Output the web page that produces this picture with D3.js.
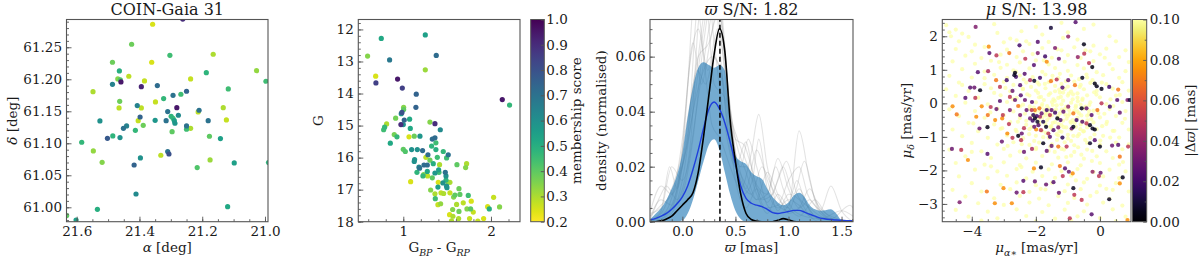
<!DOCTYPE html>
<html><head><meta charset="utf-8">
<script src="https://cdn.jsdelivr.net/npm/d3@7"></script>
<style>body{margin:0;background:#fff}</style>
</head><body>
<script>
// ---------------- DATA ----------------
// Panel 1: [ra, dec, membership score]
const skyStars = [
[21.358,61.286,.25],[21.262,61.294,.9],[21.425,61.2547,.38],[21.165,61.2391,.3],[21.303,61.2375,.45],
[21.486,61.2266,.38],[21.361,61.2266,.25],[21.464,61.213,.5],[21.187,61.2104,.48],[21.027,61.2135,.33],
[20.997,61.1969,.45],[21.469,61.2005,.35],[21.461,61.199,.42],[21.459,61.1958,.95],[21.486,61.1922,.65],
[21.434,61.2047,.28],[21.384,61.1974,.27],[21.237,61.2005,.27],[21.548,61.1807,.3],[21.394,61.1885,.92],
[21.343,61.1901,.72],[21.117,61.1849,.45],[21.250,61.1813,.75],[21.293,61.175,.7],[21.268,61.1766,.45],
[21.323,61.1698,.47],[21.463,61.1656,.38],[21.349,61.1646,.27],[21.465,61.1552,.28],[21.407,61.1589,.65],
[21.394,61.1552,.28],[21.281,61.1557,.95],[21.310,61.1495,.7],[21.210,61.1516,.7],[21.213,61.149,.28],
[21.133,61.1557,.3],[21.123,61.1365,.27],[21.181,61.1354,.7],[21.526,61.1349,.6],[21.350,61.1359,.58],
[21.315,61.1354,.7],[21.398,61.1411,.75],[21.276,61.1438,.62],[21.299,61.1422,.48],[21.293,61.1391,.45],
[21.289,61.1354,.55],[21.287,61.1313,.58],[21.404,61.1354,.27],[21.388,61.1281,.38],[21.441,61.1271,.65],
[21.451,61.1234,.7],[21.250,61.1271,.7],[21.237,61.1234,.3],[21.250,61.1219,.45],[21.413,61.1203,.47],
[21.296,61.1182,.4],[21.502,61.1078,.78],[21.485,61.1115,.48],[21.462,61.1089,.6],[21.177,61.111,.4],
[21.142,61.1073,.55],[21.584,61.1016,.47],[21.547,61.088,.33],[21.519,61.0703,.35],[21.310,61.087,.7],
[21.306,61.0833,.8],[21.332,61.0813,.28],[21.397,61.0771,.6],[21.417,61.0661,.75],[21.175,61.074,.32],
[21.098,61.0693,.55],[20.989,61.0698,.48],[21.216,61.062,.42],[21.411,61.0208,.62],[21.534,60.9969,.5],
[21.119,61.001,.52],[21.632,60.987,.4],[21.602,60.980,.55]
];
// Panel 2: [BP-RP, G, membership score]
const cmdStars = [
[1.251,12.17,.55],[0.749,12.28,.52],[1.376,12.81,.72],[0.593,12.83,.35],[0.844,12.95,.68],[1.251,13.26,.32],
[0.685,13.46,.25],[0.935,13.55,.95],[0.688,13.67,.85],[0.989,13.83,.85],[1.148,14.02,.75],[2.129,14.19,.95],
[2.212,14.36,.47],[1.144,14.43,.75],[1.004,14.43,.35],[1.004,14.50,.4],[0.985,14.59,.8],[0.977,14.63,.6],
[0.913,14.77,.37],[1.072,14.80,.52],[1.011,14.83,.75],[0.81,14.95,.3],[0.973,14.97,.9],[1.0,14.97,.6],
[1.304,14.89,.35],[1.361,14.94,.9],[0.787,15.05,.47],[0.776,15.13,.45],[1.08,15.09,.52],[1.422,15.13,.62],
[0.897,15.28,.37],[0.928,15.35,.47],[1.065,15.35,.25],[1.125,15.33,.38],[1.19,15.33,.58],[1.331,15.42,.72],
[1.361,15.38,.72],[1.372,15.54,.45],[0.852,15.55,.52],[1.323,15.64,.48],[1.0,15.74,.4],[1.023,15.81,.42],
[1.095,15.75,.6],[1.16,15.75,.6],[1.22,15.78,.72],[1.372,15.75,.5],[1.456,15.81,.47],[1.513,15.91,.7],
[1.281,15.91,.72],[1.258,15.99,.28],[1.388,15.99,.45],[1.494,16.01,.45],[1.304,16.08,.38],[1.129,16.06,.58],
[1.125,16.12,.6],[1.236,16.23,.72],[1.274,16.23,.72],[1.414,16.22,.3],[1.342,16.19,.5],[1.612,16.22,.4],
[1.722,16.19,.3],[1.711,16.31,.35],[1.179,16.30,.62],[1.186,16.33,.7],[1.156,16.46,.48],[1.274,16.43,.52],
[1.403,16.38,.55],[1.407,16.46,.45],[1.361,16.48,.58],[1.232,16.53,.35],[1.277,16.57,.28],[1.224,16.57,.47],
[1.331,16.63,.4],[1.479,16.46,.7],[1.487,16.57,.6],[1.084,16.75,.25],[1.399,16.77,.25],[1.509,16.77,.32],
[1.532,16.77,.3],[1.487,16.70,.48],[1.452,16.79,.6],[1.395,16.92,.55],[1.494,16.89,.6],[1.498,16.94,.58],
[1.635,16.97,.38],[1.312,17.01,.35],[1.361,17.13,.3],[1.43,17.10,.28],[1.46,17.12,.3],[1.532,17.10,.27],
[1.589,17.17,.4],[1.574,17.23,.35],[1.646,17.15,.4],[1.741,17.18,.45],[1.775,17.36,.25],[1.684,17.41,.28],
[1.608,17.46,.3],[1.563,17.62,.35],[1.635,17.68,.38],[1.365,17.28,.45],[1.395,17.47,.27],[1.426,17.44,.33],
[1.962,17.53,.25],[2.03,17.24,.27],[1.981,17.60,.5],[2.098,17.54,.35],[1.726,17.60,.35],[1.768,17.60,.4],
[1.798,17.70,.27],[1.528,17.78,.25],[1.566,17.83,.3],[1.756,17.90,.27],[1.916,17.90,.25],[1.631,17.90,.3],
[1.85,17.98,.27],[1.55,17.97,.3]
];
// Panel 3: parallax density curves
const plxGrid = [-0.3,-0.25,-0.2,-0.15,-0.1,-0.05,0,0.05,0.1,0.15,0.2,0.25,0.3,0.35,0.4,0.45,0.5,0.55,0.6,0.65,0.7,0.75,0.8,0.85,0.9,0.95,1.0,1.05,1.1,1.15,1.2,1.25,1.3,1.35,1.4,1.45,1.5,1.55,1.6];
const bandHigh = [0.001,0.003,0.005,0.008,0.012,0.017,0.025,0.038,0.049,0.056,0.058,0.057,0.056,0.057,0.055,0.036,0.024,0.022,0.021,0.018,0.0165,0.0155,0.012,0.009,0.007,0.006,0.007,0.0095,0.0105,0.009,0.006,0.0045,0.004,0.0042,0.0045,0.003,0.0005,0,0];
const bandLow = [0,0,0,0,0,0,0.0005,0.003,0.008,0.015,0.022,0.028,0.030,0.026,0.018,0.010,0.004,0.001,0,0,0,0,0,0,0,0,0,0,0,0,0,0,0,0,0,0,0,0,0];
const medianDensity = [0.0007,0.0012,0.002,0.003,0.0045,0.0065,0.009,0.013,0.019,0.026,0.034,0.041,0.0435,0.041,0.036,0.029,0.021,0.013,0.0085,0.0067,0.006,0.0055,0.0045,0.0033,0.003,0.0033,0.0037,0.0041,0.0041,0.0035,0.0027,0.002,0.0013,0.001,0.0008,0.0006,0.0005,0.0004,0.0004];
const clusterDensity = [0,0,0.0003,0.001,0.002,0.004,0.006,0.008,0.0105,0.018,0.031,0.046,0.061,0.0702,0.062,0.037,0.022,0.010,0.003,0.0008,0.0002,0,0,0,0.0005,0.0011,0.0007,0.0001,0,0,0,0,0,0,0,0,0,0,0];
const plxMean = 0.354;
const bootstrapCurves = [
[[-0.3,0],[-0.15,0.002],[-0.05,0.01],[0.05,0.05],[0.12,0.085],[0.2,0.06],[0.28,0.035],[0.36,0.03],[0.45,0.02],[0.55,0.012],[0.65,0.025],[0.72,0.039],[0.8,0.02],[0.9,0.006],[1.0,0.004],[1.1,0.012],[1.2,0.004],[1.35,0],[1.61,0]],
[[-0.3,0.004],[-0.2,0.013],[-0.1,0.01],[0,0.02],[0.1,0.04],[0.2,0.07],[0.3,0.09],[0.4,0.06],[0.5,0.03],[0.58,0.028],[0.65,0.02],[0.75,0.008],[0.85,0.01],[0.95,0.02],[1.05,0.01],[1.15,0.022],[1.25,0.008],[1.4,0.002],[1.61,0]],
[[-0.3,0],[-0.2,0.004],[-0.1,0.02],[0,0.015],[0.08,0.03],[0.16,0.075],[0.22,0.08],[0.3,0.05],[0.4,0.045],[0.5,0.02],[0.6,0.029],[0.68,0.015],[0.8,0.01],[0.9,0.023],[1.0,0.012],[1.1,0.005],[1.2,0.008],[1.3,0.003],[1.45,0],[1.61,0]],
[[-0.3,0.002],[-0.2,0.008],[-0.1,0.006],[0,0.025],[0.1,0.065],[0.18,0.05],[0.26,0.065],[0.35,0.08],[0.45,0.04],[0.55,0.015],[0.65,0.01],[0.75,0.02],[0.85,0.012],[1.0,0.005],[1.1,0.033],[1.2,0.015],[1.3,0.004],[1.4,0.013],[1.5,0.004],[1.61,0]],
[[-0.3,0],[-0.2,0.001],[-0.1,0.006],[0,0.02],[0.1,0.045],[0.2,0.075],[0.28,0.095],[0.36,0.06],[0.44,0.03],[0.52,0.022],[0.6,0.012],[0.7,0.026],[0.8,0.015],[0.9,0.004],[1.0,0.01],[1.1,0.008],[1.2,0.002],[1.3,0],[1.61,0]],
[[-0.3,0.003],[-0.2,0.005],[-0.12,0.02],[-0.05,0.012],[0.05,0.035],[0.15,0.06],[0.25,0.065],[0.33,0.075],[0.42,0.045],[0.5,0.015],[0.6,0.005],[0.7,0.012],[0.8,0.007],[0.9,0.015],[0.98,0.022],[1.08,0.01],[1.2,0.005],[1.3,0.002],[1.45,0],[1.61,0]],
[[-0.3,0],[-0.15,0.004],[-0.05,0.015],[0.05,0.03],[0.12,0.07],[0.2,0.1],[0.3,0.065],[0.4,0.035],[0.5,0.02],[0.6,0.02],[0.7,0.01],[0.8,0.003],[0.9,0.01],[1.0,0.005],[1.1,0.002],[1.25,0.008],[1.35,0.003],[1.5,0],[1.61,0]],
[[-0.3,0.001],[-0.2,0.01],[-0.15,0.013],[-0.05,0.008],[0.05,0.02],[0.15,0.045],[0.25,0.07],[0.33,0.085],[0.42,0.05],[0.5,0.03],[0.6,0.018],[0.7,0.008],[0.8,0.018],[0.9,0.01],[1.0,0.003],[1.1,0.005],[1.2,0.012],[1.3,0.004],[1.4,0.001],[1.58,0.006],[1.61,0.005]],
[[-0.3,0],[-0.2,0],[-0.1,0.003],[0,0.015],[0.1,0.04],[0.2,0.055],[0.28,0.06],[0.36,0.055],[0.44,0.04],[0.52,0.03],[0.6,0.022],[0.7,0.012],[0.78,0.005],[0.9,0.006],[1.0,0.015],[1.1,0.02],[1.18,0.01],[1.3,0.004],[1.4,0.001],[1.61,0]],
[[-0.3,0.002],[-0.2,0.006],[-0.1,0.01],[0,0.03],[0.08,0.06],[0.15,0.07],[0.24,0.055],[0.33,0.07],[0.42,0.05],[0.5,0.025],[0.58,0.01],[0.66,0.015],[0.72,0.03],[0.8,0.012],[0.9,0.005],[1.0,0.008],[1.1,0.006],[1.2,0.002],[1.4,0.001],[1.61,0]],
[[-0.3,0],[-0.2,0.002],[-0.1,0.005],[0,0.01],[0.1,0.03],[0.2,0.065],[0.3,0.085],[0.38,0.07],[0.46,0.035],[0.55,0.02],[0.62,0.03],[0.7,0.02],[0.8,0.006],[0.9,0.003],[1.0,0.006],[1.08,0.015],[1.15,0.008],[1.3,0.001],[1.61,0]],
[[-0.3,0.001],[-0.2,0.003],[-0.1,0.012],[-0.02,0.022],[0.06,0.04],[0.14,0.055],[0.22,0.05],[0.3,0.06],[0.38,0.05],[0.46,0.025],[0.54,0.018],[0.62,0.012],[0.7,0.008],[0.8,0.01],[0.88,0.02],[0.95,0.012],[1.05,0.004],[1.15,0.002],[1.3,0.001],[1.5,0.004],[1.61,0.002]]
];
// Panel 4: field stars with |dplx| >= 0.1 mas  [pmra, pmdec]
const pmField = [
[-4.8,2.33],[-4.5,2.2],[-4.3,2.08],[-3.3,2.36],[-2.0,2.28],[-1.2,2.4],[-0.5,2.22],[-4.65,2.0],
[-4.7,2.12],[-4.1,1.98],[-3.2,2.1],[-2.8,1.93],[-1.8,2.05],[-1.0,2.12],[0.3,2.0],[-2.45,2.15],[-0.2,2.35],
[-4.4,1.85],[-3.9,1.75],[-3.0,1.82],[-2.6,1.88],[-2.2,1.77],[-1.6,1.83],[-0.7,1.9],[-0.2,1.72],[0.5,1.85],[-1.15,1.95],
[-4.5,1.62],[-4.0,1.55],[-3.6,1.68],[-2.9,1.6],[-2.4,1.55],[-1.8,1.65],[-1.2,1.58],[-0.8,1.67],[-0.3,1.55],[0.2,1.63],[0.8,1.58],
[-4.2,1.42],[-3.7,1.35],[-3.1,1.45],[-2.6,1.38],[-2.1,1.47],[-1.5,1.36],[-1.0,1.44],[-0.6,1.35],[0.0,1.46],[0.6,1.38],[-1.75,1.28],
[-4.6,1.25],[-3.9,1.18],[-3.4,1.27],[-2.9,1.15],[-2.5,1.22],[-2.0,1.28],[-1.6,1.16],[-1.1,1.24],[-0.7,1.14],[-0.2,1.26],[0.3,1.17],[0.9,1.23],
[-4.3,1.02],[-3.6,0.95],[-3.1,1.06],[-2.7,0.98],[-2.2,1.04],[-1.8,0.94],[-1.4,1.05],[-1.0,0.97],[-0.5,1.04],[-0.1,0.93],[0.4,1.02],[0.8,0.96],[-1.25,0.88],
[-4.7,0.82],[-4.0,0.77],[-3.3,0.85],[-2.9,0.76],[-2.5,0.83],[-2.1,0.78],[-1.7,0.86],[-1.3,0.75],[-0.9,0.83],[-0.4,0.77],[0.1,0.84],[0.6,0.76],[-1.5,0.7],[-0.65,0.72],
[-4.4,0.62],[-3.6,0.57],[-3.0,0.64],[-2.7,0.55],[-2.3,0.62],[-1.9,0.56],[-1.6,0.63],[-1.2,0.58],[-0.8,0.65],[-0.6,0.55],[-0.3,0.61],[0.2,0.57],[0.7,0.63],[-1.4,0.52],[-1.0,0.5],
[-4.8,0.42],[-4.1,0.37],[-3.4,0.45],[-2.8,0.36],[-2.4,0.43],[-2.0,0.38],[-1.7,0.45],[-1.4,0.36],[-1.1,0.43],[-0.9,0.35],[-0.5,0.42],[-0.1,0.37],[0.4,0.44],[0.9,0.38],[-1.55,0.3],[-1.25,0.32],[-0.7,0.3],
[-4.5,0.22],[-3.8,0.17],[-3.1,0.24],[-2.6,0.16],[-2.2,0.23],[-1.9,0.18],[-1.6,0.25],[-1.3,0.16],[-1.0,0.23],[-0.7,0.17],[-0.4,0.24],[0.0,0.18],[0.5,0.23],[-1.75,0.1],[-1.45,0.12],[-1.15,0.08],[-0.85,0.12],[-0.55,0.1],
[-4.2,0.02],[-3.5,-0.03],[-2.9,0.04],[-2.4,-0.04],[-2.0,0.03],[-1.8,-0.02],[-1.5,0.04],[-1.2,-0.03],[-0.9,0.02],[-0.6,-0.04],[-0.3,0.03],[0.2,-0.02],[0.7,0.04],[-1.65,-0.08],[-1.35,-0.06],[-1.05,-0.1],[-0.75,-0.07],[-0.45,-0.1],
[-4.7,-0.18],[-3.9,-0.23],[-3.2,-0.16],[-2.7,-0.24],[-2.2,-0.17],[-1.9,-0.22],[-1.6,-0.15],[-1.4,-0.24],[-1.1,-0.17],[-0.8,-0.23],[-0.5,-0.16],[-0.2,-0.22],[0.3,-0.17],[0.8,-0.23],[-1.7,-0.3],[-1.25,-0.3],[-0.95,-0.32],[-0.65,-0.3],[-0.35,-0.32],
[-4.4,-0.38],[-3.6,-0.43],[-3.0,-0.36],[-2.5,-0.44],[-2.1,-0.37],[-1.8,-0.42],[-1.5,-0.36],[-1.3,-0.45],[-1.0,-0.38],[-0.7,-0.43],[-0.4,-0.37],[0.0,-0.42],[0.5,-0.38],[-1.65,-0.5],[-1.15,-0.52],[-0.85,-0.5],[-0.55,-0.53],[-2.3,-0.52],
[-4.1,-0.58],[-3.3,-0.63],[-2.8,-0.56],[-2.3,-0.64],[-1.9,-0.57],[-1.7,-0.62],[-1.4,-0.56],[-1.2,-0.65],[-0.9,-0.58],[-0.6,-0.63],[-0.2,-0.57],[0.2,-0.62],[0.7,-0.58],[-1.55,-0.7],[-1.05,-0.72],[-0.75,-0.7],[-0.4,-0.72],
[-4.6,-0.78],[-3.8,-0.83],[-3.1,-0.76],[-2.6,-0.84],[-2.2,-0.77],[-1.8,-0.82],[-1.5,-0.76],[-1.2,-0.85],[-0.9,-0.78],[-0.5,-0.83],[-0.1,-0.77],[0.4,-0.82],[0.9,-0.78],[-1.35,-0.92],[-1.0,-0.94],[-0.65,-0.92],
[-4.3,-0.98],[-3.5,-1.03],[-2.9,-0.96],[-2.4,-1.04],[-2.0,-0.97],[-1.6,-1.02],[-1.3,-0.96],[-1.0,-1.05],[-0.7,-0.98],[-0.3,-1.03],[0.1,-0.97],[0.6,-1.02],
[-4.0,-1.18],[-3.2,-1.23],[-2.7,-1.16],[-2.2,-1.24],[-1.9,-1.17],[-1.5,-1.22],[-1.1,-1.16],[-0.8,-1.25],[-0.4,-1.18],[0.0,-1.23],[0.5,-1.17],[0.9,-1.22],
[-4.7,-1.38],[-3.7,-1.43],[-3.0,-1.36],[-2.5,-1.44],[-2.0,-1.37],[-1.6,-1.42],[-1.2,-1.36],[-0.8,-1.45],[-0.4,-1.38],[0.2,-1.43],[0.7,-1.37],
[-4.2,-1.58],[-3.4,-1.63],[-2.8,-1.56],[-2.3,-1.64],[-1.8,-1.57],[-1.3,-1.62],[-0.9,-1.56],[-0.5,-1.65],[-0.1,-1.58],[0.4,-1.63],
[-4.5,-1.78],[-3.6,-1.83],[-3.0,-1.76],[-2.5,-1.84],[-2.0,-1.77],[-1.5,-1.82],[-1.0,-1.76],[-0.6,-1.85],[0.0,-1.78],[0.6,-1.83],
[-3.9,-1.98],[-3.2,-2.03],[-2.6,-1.96],[-2.1,-2.04],[-1.6,-1.97],[-1.2,-2.02],[-0.7,-1.96],[-0.2,-2.05],[0.3,-1.98],[0.8,-2.03],
[-4.4,-2.18],[-3.5,-2.23],[-2.9,-2.16],[-2.3,-2.24],[-1.8,-2.17],[-1.4,-2.22],[-0.9,-2.16],[-0.4,-2.25],[0.1,-2.18],[0.6,-2.23],
[-4.0,-2.38],[-3.1,-2.43],[-2.6,-2.36],[-2.0,-2.44],[-1.5,-2.37],[-1.0,-2.42],[-0.5,-2.36],[0.0,-2.45],[0.5,-2.38],
[-4.6,-2.58],[-3.7,-2.63],[-2.8,-2.56],[-2.2,-2.64],[-1.7,-2.57],[-1.1,-2.62],[-0.6,-2.56],[-0.1,-2.65],[0.4,-2.58],[0.9,-2.63],
[-4.2,-2.78],[-3.3,-2.83],[-2.5,-2.76],[-1.9,-2.84],[-1.3,-2.77],[-0.8,-2.82],[-0.3,-2.76],[0.3,-2.85],
[-3.8,-2.98],[-3.0,-3.03],[-2.2,-2.96],[-1.6,-3.04],[-1.0,-2.97],[-0.4,-3.02],[0.1,-2.96],[0.7,-3.05],
[-4.5,-3.18],[-3.5,-3.23],[-2.6,-3.16],[-1.8,-3.24],[-1.1,-3.17],[-0.5,-3.22],[0.4,-3.16],
[-4.1,-3.38],[-3.2,-3.43],[-2.3,-3.36],[-1.4,-3.44],[-0.7,-3.37],[0.0,-3.42],[0.8,-3.38],
[-3.7,-3.5],[-2.0,-3.52],[-0.9,-3.49],[0.5,-3.51],
[-2.62,0.95],[-2.38,0.71],[-2.15,0.49],[-1.93,0.31],[-1.72,0.58],[-1.48,0.82],[-1.27,0.41],[-1.06,0.66],[-0.84,0.27],[-0.63,0.49],[-0.42,0.86],[-0.18,0.33],[0.06,0.62],
[-2.71,0.12],[-2.49,-0.09],[-2.27,0.27],[-2.06,-0.13],[-1.84,0.19],[-1.62,-0.27],[-1.41,0.07],[-1.19,-0.19],[-0.97,0.29],[-0.76,-0.12],[-0.54,0.14],[-0.33,-0.05],[-0.11,0.26],[0.14,-0.31],
[-2.56,-0.55],[-2.34,-0.31],[-2.13,-0.71],[-1.91,-0.47],[-1.69,-0.88],[-1.47,-0.58],[-1.26,-0.83],[-1.04,-0.46],[-0.83,-0.97],[-0.61,-0.77],[-0.39,-0.51],[-0.17,-0.93],[0.07,-0.68],
[-2.44,-1.22],[-2.21,-0.92],[-1.99,-1.33],[-1.77,-1.01],[-1.55,-1.29],[-1.34,-1.09],[-1.12,-1.38],[-0.9,-1.12],[-0.68,-1.31],[-0.46,-1.09],[-0.24,-1.42],[0.01,-1.11],
[-1.82,-0.08],[-1.58,-0.43],[-1.37,-0.18],[-1.69,-0.36],[-1.47,-0.05],[-1.29,-0.62],[-1.08,-0.34],[-0.92,-0.55],[-0.71,-0.24],[-1.89,-0.63],[-2.02,-0.28],[-1.22,0.19],[-0.58,-0.36],[-0.27,-0.47],[-0.05,-0.29],[0.22,-0.55],[0.33,0.12],
[-3.3,0.31],[-3.05,-0.74],[-2.95,0.46],[-3.42,-0.27],[-2.88,-1.27],[0.45,-0.82],[0.62,0.25],[0.78,-0.46],[-3.6,0.75],[-3.15,1.23],[-1.33,1.61],[-0.45,1.58],[0.15,1.36],[-2.3,1.85],[-3.95,-0.6],[-4.3,0.55],[-4.0,-1.45],[-3.4,-1.88],[-2.45,-1.9],[-1.05,-1.6],[-0.25,-1.72],[0.72,-1.75],[-1.85,-2.55],[-0.75,-2.3],[0.2,-2.55],
[-1.74,-0.19],[-1.52,-0.68],[-1.31,-0.38],[-1.13,-0.71],[-0.96,-0.2],[-0.79,-0.58],[-0.52,-0.84],[-0.34,-0.22],[-2.19,-0.09],[-2.41,0.43],[-1.95,0.62],[-1.15,0.32],[-0.69,0.06],[-0.23,0.69],[0.42,-0.08],[-2.63,-0.79],[-2.05,-1.12],[-1.41,-1.45],[-0.58,-1.53],[0.32,-1.02]
];
// Panel 4: stars with |dplx| < 0.1 mas  [pmra, pmdec, |dplx|]
const pmNear = [
[-0.76,2.42,0.025],[-1.53,2.25,0.01],[-3.88,2.28,0.035],[-0.5,1.76,0.005],[-3.47,1.69,0.075],[-2.51,1.73,0.02],[-1.94,1.83,0.025],[-1.4,1.65,0.035],[-0.99,1.99,0.04],[-3.23,1.43,0.05],
[-3.45,1.5,0.025],[-2.83,1.5,0.07],[-2.33,1.33,0.05],[-2.06,1.14,0.025],[-1.94,1.5,0.035],[-1.71,1.4,0.02],[-1.66,1.24,0.075],[-1.28,1.33,0.03],[-0.69,1.38,0.04],[-0.49,1.48,0.05],
[-0.24,1.08,0.003],[-0.34,1.2,0.05],[-3.81,0.93,0.025],[-3.49,0.96,0.045],[-2.65,0.91,0.005],[-2.67,0.84,0.008],[-2.62,0.79,0.02],[-2.35,0.88,0.025],[-2.91,0.69,0.02],[-3.24,0.69,0.07],
[-3.12,0.49,0.05],[-2.49,0.54,0.025],[-2.18,0.69,0.045],[-2.05,0.67,0.008],[-1.87,0.76,0.02],[-1.53,0.66,0.07],[-1.35,0.71,0.05],[-1.17,0.47,0.025],[-0.99,0.69,0.03],[-0.78,0.54,0.07],
[-0.55,0.76,0.006],[-0.16,0.59,0.003],[-0.1,0.51,0.005],[0.05,0.43,0.005],[0.29,0.49,0.02],[0.57,0.41,0.07],[0.86,0.1,0.035],[0.93,0.1,0.01],[-4.05,0.47,0.025],[-3.92,0.47,0.03],
[-3.74,0.39,0.005],[-4.2,0.16,0.025],[-4.6,-0.09,0.075],[-4.47,-0.33,0.07],[-3.89,0.16,0.05],[-3.69,-0.09,0.075],[-3.41,-0.11,0.05],[-3.23,-0.17,0.03],[-3.5,-0.35,0.07],[-3.86,-0.4,0.075],
[-3.76,-0.75,0.03],[-3.51,-0.71,0.005],[-3.12,0.07,0.025],[-2.81,0.19,0.05],[-2.73,0.37,0.03],[-2.65,0.1,0.03],[-2.47,0.24,0.025],[-2.34,0.1,0.03],[-2.55,-0.08,0.07],[-2.81,-0.2,0.035],
[-2.49,-0.35,0.035],[-3.03,-0.35,0.05],[-3.05,-0.45,0.075],[-3.27,-0.5,0.075],[-2.84,-0.62,0.05],[-2.89,-0.9,0.075],[-2.55,-0.97,0.004],[-2.44,-0.9,0.03],[-2.37,-0.74,0.05],[-2.46,-1.1,0.05],
[-2.29,-0.2,0.03],[-2.12,0.04,0.025],[-2.03,-0.2,0.07],
[-2.08,-0.35,0.015],[-2.03,-0.45,0.005],[-1.97,-0.38,0.02],[-2.1,-0.52,0.02],[-1.95,-0.55,0.008],[-1.87,-0.4,0.045],[-1.92,-0.65,0.025],[-2.05,-0.7,0.03],[-1.82,-0.3,0.03],[-1.77,-0.55,0.012],
[-2.13,-0.2,0.05],[-1.89,-0.15,0.07],[-2.18,-0.45,0.03],[-1.99,-0.78,0.075],[-1.84,-0.8,0.05],[-1.68,-0.7,0.006],[-1.66,-0.2,0.02],[-1.51,-0.2,0.03],[-1.56,-0.35,0.05],[-1.4,-0.28,0.02],
[-1.33,-0.45,0.005],[-1.23,-0.5,0.025],[-1.14,-0.25,0.03],[-1.45,-0.8,0.025],[-1.3,-0.72,0.035],[-1.61,-0.9,0.05],[-1.56,-1.0,0.025],[-1.17,-1.02,0.015],[-1.77,-1.19,0.005],[-1.51,-1.27,0.03],
[-1.3,-1.29,0.07],[-1.04,-1.29,0.05],[-0.88,-0.75,0.03],[-0.83,-0.7,0.006],[-0.73,-0.5,0.02],[-0.99,-0.1,0.04],[-0.83,-0.3,0.07],[-0.57,-0.15,0.005],[-0.42,-0.15,0.03],[-0.55,-0.55,0.025],
[-0.42,-0.6,0.05],[-0.31,-0.65,0.005],[-0.23,-0.75,0.006],[-0.16,-0.78,0.004],[-0.26,-0.35,0.025],[-0.08,-0.2,0.07],[0.05,0.0,0.05],[0.31,-0.1,0.02],[0.54,0.1,0.025],[0.62,-0.28,0.03],
[0,-1.29,0.005],[-0.31,-1.19,0.008],[-0.16,-1.1,0.025],[0.38,-1.26,0.03],[0.57,-1.24,0.025],[0.62,-1.59,0.07],[0.88,-1.29,0.05],
[-4.62,-1.36,0.03],[-4.33,-1.39,0.05],[-4.12,-1.69,0.075],[-3.51,-1.51,0.025],[-3.06,-1.14,0.03],[-2.73,-1.03,0.05],[-2.37,-1.45,0.03],[-2.12,-1.36,0.045],[-1.66,-1.42,0.03],[-1.84,-1.91,0.006],
[-2.06,-1.94,0.075],[-1.25,-1.87,0.07],[-1.09,-1.94,0.025],[-0.85,-2.09,0.075],[-0.97,-2.04,0.03],[-0.23,-2.04,0.04],[0.02,-2.07,0.03],[-0.03,-2.17,0.05],[0.71,-2.21,0.005],[0.62,-2.39,0.075],
[-2.39,-2.31,0.025],[-2.03,-2.33,0.03],[-1.45,-2.35,0.025],[-0.83,-2.53,0.006],[-0.8,-2.73,0.05],[-1.16,-2.17,0.05],[-3.01,-2.53,0.075],[-2.6,-2.66,0.03],[-2.39,-2.65,0.05],[-1.68,-2.42,0.03],
[-1.28,-2.67,0.03],[0.29,-2.86,0.008],[-4.38,-2.95,0.035],[-3.28,-2.98,0.075],[-2.75,-2.98,0.075],[-0.26,-3.31,0.025],[-0.94,-3.43,0.05],[0.86,-3.48,0.075],[-0.57,-2.88,0.05],[-3.53,-2.63,0.07]
];
// Tick labels
const p1XTicks = [21.6,21.4,21.2,21.0], p1YTicks = [61.00,61.05,61.10,61.15,61.20,61.25];
const p2XTicks = [1,2], p2YTicks = [12,13,14,15,16,17,18], cb1Ticks = [0.2,0.3,0.4,0.5,0.6,0.7,0.8,0.9,1.0];
const p3XTicks = [0.0,0.5,1.0,1.5], p3YTicks = [0.00,0.02,0.04,0.06];
const p4XTicks = [-4,-2,0], p4YTicks = [-3,-2,-1,0,1,2], cb2Ticks = [0.00,0.02,0.04,0.06,0.08,0.10];

// ---------------- DRAWING ----------------
const FS = 13.5, SPINE = "#555", TXT = "#1a1a1a";
const svg = d3.select("body").append("svg").attr("width",1200).attr("height",260)
  .style("font-family","'DejaVu Serif', serif");
const defs = svg.append("defs");
const T = 19.5, B = 221.7;
const minus = s => s.replace("-", "\u2212");
const rng = (a,b,s) => { const o=[]; const n=Math.round((b-a)/s); for(let i=0;i<=n;i++) o.push(+(a+i*s).toFixed(6)); return o; };

function mkAxis(gen, tr){
  const a = svg.append("g").attr("transform",tr).call(gen);
  a.select(".domain").remove();
  a.attr("font-family",null).attr("font-size",FS).attr("color",SPINE);
  a.selectAll("line").attr("stroke-width",0.9);
  a.selectAll("text").attr("fill",TXT);
  return a;
}
function frame(L,R){
  svg.append("rect").attr("x",L).attr("y",T).attr("width",R-L).attr("height",B-T)
    .attr("fill","none").attr("stroke",SPINE).attr("stroke-width",1.1);
}
function axes(L,R,xs,ys,xMaj,xMin,yMaj,yMin,xf,yf){
  const inX = v => v>=Math.min(...xs.domain())-1e-9 && v<=Math.max(...xs.domain())+1e-9;
  const inY = v => v>=Math.min(...ys.domain())-1e-9 && v<=Math.max(...ys.domain())+1e-9;
  mkAxis(d3.axisBottom(xs).tickValues(xMin.filter(inX)).tickSizeInner(-2.5).tickSizeOuter(0).tickFormat(""), `translate(0,${B})`);
  mkAxis(d3.axisBottom(xs).tickValues(xMaj).tickSizeInner(-5).tickSizeOuter(0).tickPadding(5).tickFormat(xf), `translate(0,${B})`);
  mkAxis(d3.axisLeft(ys).tickValues(yMin.filter(inY)).tickSizeInner(-2.5).tickSizeOuter(0).tickFormat(""), `translate(${L},0)`);
  mkAxis(d3.axisLeft(ys).tickValues(yMaj).tickSizeInner(-5).tickSizeOuter(0).tickPadding(4.5).tickFormat(yf), `translate(${L},0)`);
}
function clip(id,L,R){
  defs.append("clipPath").attr("id",id).append("rect").attr("x",L).attr("y",T).attr("width",R-L).attr("height",B-T);
}
function rich(x,y,parts,opts={}){
  const t = svg.append("text").attr("x",x).attr("y",y).attr("font-size",opts.fs||FS)
    .attr("text-anchor","middle").attr("fill",TXT);
  if (opts.rot) t.attr("transform",`rotate(-90,${x},${y})`);
  let sub=false;
  parts.forEach(([s,o])=>{
    o=o||{};
    const sp=t.append("tspan").text(s);
    if (o.i) sp.attr("font-style","italic");
    if (o.sub && !sub){ sp.attr("dy",3.5).attr("font-size",(opts.fs||FS)*0.7); sub=true; }
    else if (o.sub) sp.attr("font-size",(opts.fs||FS)*0.7);
    else if (sub){ sp.attr("dy",-3.5); sub=false; }
  });
  return t;
}

// ---- Panel 1 ----
{
  const L=66.5,R=268;
  const x=d3.scaleLinear().domain([21.6325,20.9904]).range([L,R]);
  const y=d3.scaleLinear().domain([60.9775,61.2934]).range([B,T]);
  const col=d3.scaleSequential(t=>d3.interpolateViridis(1-t)).domain([0.2,1.0]).clamp(true);
  clip("c1",L,R);
  svg.append("g").attr("clip-path","url(#c1)").selectAll("circle")
    .data(skyStars.slice().sort((a,b)=>a[2]-b[2])).join("circle")
    .attr("cx",d=>x(d[0])).attr("cy",d=>y(d[1])).attr("r",2.6).attr("fill",d=>col(d[2]));
  axes(L,R,x,y,p1XTicks,rng(20.95,21.65,0.05),p1YTicks,rng(60.97,61.30,0.01),d3.format(".1f"),d3.format(".2f"));
  frame(L,R);
  rich((L+R)/2,15,[["COIN-Gaia 31"]],{fs:16});
  rich((L+R)/2,252,[["α",{i:1}],[" [deg]"]]);
  rich(17,(T+B)/2,[["δ",{i:1}],[" [deg]"]],{rot:1});
}
// ---- Panel 2 ----
{
  const L=358.3,R=520;
  const x=d3.scaleLinear().domain([0.487,2.331]).range([L,R]);
  const y=d3.scaleLinear().domain([11.69,18]).range([T,B]);
  const col=d3.scaleSequential(t=>d3.interpolateViridis(1-t)).domain([0.2,1.0]).clamp(true);
  clip("c2",L,R);
  svg.append("g").attr("clip-path","url(#c2)").selectAll("circle")
    .data(cmdStars.slice().sort((a,b)=>a[2]-b[2])).join("circle")
    .attr("cx",d=>x(d[0])).attr("cy",d=>y(d[1])).attr("r",2.6).attr("fill",d=>col(d[2]));
  axes(L,R,x,y,p2XTicks,rng(0.6,2.2,0.2),p2YTicks,rng(11.8,18,0.2),d3.format("d"),d3.format("d"));
  frame(L,R);
  rich((L+R)/2,252,[["G"],["BP",{i:1,sub:1}],[" - G"],["RP",{i:1,sub:1}]]);
  rich(323,(T+B)/2,[["G"]],{rot:1});
  const cL=530.7,cR=544.3;
  const cy=d3.scaleLinear().domain([0.2,1.0]).range([B,T]);
  const gr=defs.append("linearGradient").attr("id","gv").attr("x1",0).attr("y1",1).attr("x2",0).attr("y2",0);
  d3.range(0,1.0001,0.05).forEach(t=>gr.append("stop").attr("offset",t).attr("stop-color",col(0.2+0.8*t)));
  svg.append("rect").attr("x",cL).attr("y",T).attr("width",cR-cL).attr("height",B-T).attr("fill","url(#gv)");
  mkAxis(d3.axisRight(cy).tickValues(cb1Ticks).tickSizeInner(-3.5).tickSizeOuter(0).tickPadding(2).tickFormat(d3.format(".1f")),`translate(${cR},0)`);
  svg.append("rect").attr("x",cL).attr("y",T).attr("width",cR-cL).attr("height",B-T).attr("fill","none").attr("stroke",SPINE).attr("stroke-width",1);
  rich(581,(T+B)/2,[["membership score"]],{rot:1});
}
// ---- Panel 3 ----
{
  const L=650,R=853;
  const x=d3.scaleLinear().domain([-0.305,1.608]).range([L,R]);
  const y=d3.scaleLinear().domain([0,0.0735]).range([B,T]);
  clip("c3",L,R);
  const g=svg.append("g").attr("clip-path","url(#c3)");
  const ln=d3.line().x(d=>x(d[0])).y(d=>y(d[1])).curve(d3.curveMonotoneX);
  g.selectAll("path.boot").data(bootstrapCurves).join("path").attr("class","boot")
    .attr("d",ln).attr("fill","none").attr("stroke","#9a9a9a").attr("stroke-opacity",0.28).attr("stroke-width",1.1);
  const band=plxGrid.map((v,i)=>[v,bandLow[i],bandHigh[i]]);
  g.append("path").datum(band).attr("d",d3.area().x(d=>x(d[0])).y0(d=>y(d[1])).y1(d=>y(d[2])).curve(d3.curveMonotoneX))
    .attr("fill","#1f77b4").attr("fill-opacity",0.62);
  g.append("path").datum(plxGrid.map((v,i)=>[v,medianDensity[i]])).attr("d",ln)
    .attr("fill","none").attr("stroke","#1f3fdc").attr("stroke-width",1.4);
  g.append("path").datum(plxGrid.map((v,i)=>[v,clusterDensity[i]])).attr("d",ln)
    .attr("fill","none").attr("stroke","#000").attr("stroke-width",1.6);
  g.append("line").attr("x1",x(plxMean)).attr("x2",x(plxMean)).attr("y1",B).attr("y2",T)
    .attr("stroke","#000").attr("stroke-width",1.5).attr("stroke-dasharray","5,3");
  axes(L,R,x,y,p3XTicks,rng(-0.3,1.6,0.1),p3YTicks,rng(0,0.07,0.005),d3.format(".1f"),d3.format(".2f"));
  frame(L,R);
  rich((L+R)/2,15,[["ϖ",{i:1}],[" S/N: 1.82"]],{fs:16});
  rich((L+R)/2,252,[["ϖ",{i:1}],[" [mas]"]]);
  rich(606,(T+B)/2,[["density (normalised)"]],{rot:1});
}
// ---- Panel 4 ----
{
  const L=942.3,R=1131;
  const x=d3.scaleLinear().domain([-4.92,0.97]).range([L,R]);
  const y=d3.scaleLinear().domain([-3.53,2.5]).range([B,T]);
  const col=d3.scaleSequential(d3.interpolateInferno).domain([0,0.1]).clamp(true);
  clip("c4",L,R);
  const g=svg.append("g").attr("clip-path","url(#c4)");
  g.selectAll("circle.f").data(pmField).join("circle").attr("class","f")
    .attr("cx",d=>x(d[0])).attr("cy",d=>y(d[1])).attr("r",2.1).attr("fill",col(0.1)).attr("fill-opacity",0.7);
  g.selectAll("circle.n").data(pmNear.slice().sort((a,b)=>b[2]-a[2])).join("circle").attr("class","n")
    .attr("cx",d=>x(d[0])).attr("cy",d=>y(d[1])).attr("r",2.1).attr("fill",d=>col(d[2])).attr("fill-opacity",0.85);
  axes(L,R,x,y,p4XTicks,rng(-4.5,0.5,0.5),p4YTicks,rng(-3.4,2.4,0.2),d=>minus(d3.format("d")(d)),d=>minus(d3.format("d")(d)));
  frame(L,R);
  rich((L+R)/2,15,[["μ",{i:1}],[" S/N: 13.98"]],{fs:16});
  rich((L+R)/2,252,[["μ",{i:1}],["α∗",{i:1,sub:1}],[" [mas/yr]"]]);
  rich(911,(T+B)/2,[["μ",{i:1}],["δ",{i:1,sub:1}],[" [mas/yr]"]],{rot:1});
  const cL=1132.5,cR=1146.7;
  const cy=d3.scaleLinear().domain([0,0.1]).range([B,T]);
  const gr=defs.append("linearGradient").attr("id","gi").attr("x1",0).attr("y1",1).attr("x2",0).attr("y2",0);
  d3.range(0,1.0001,0.05).forEach(t=>gr.append("stop").attr("offset",t).attr("stop-color",d3.interpolateInferno(t)));
  svg.append("rect").attr("x",cL).attr("y",T).attr("width",cR-cL).attr("height",B-T).attr("fill","url(#gi)");
  mkAxis(d3.axisRight(cy).tickValues(rng(0.01,0.09,0.02)).tickSizeInner(-2).tickSizeOuter(0).tickFormat(""),`translate(${cR},0)`);
  mkAxis(d3.axisRight(cy).tickValues(cb2Ticks).tickSizeInner(-3.5).tickSizeOuter(0).tickPadding(3).tickFormat(d3.format(".2f")),`translate(${cR},0)`);
  svg.append("rect").attr("x",cL).attr("y",T).attr("width",cR-cL).attr("height",B-T).attr("fill","none").attr("stroke",SPINE).attr("stroke-width",1);
  rich(1195,(T+B)/2,[["|Δ"],["ϖ",{i:1}],["| [mas]"]],{rot:1});
}
</script>
</body></html>
